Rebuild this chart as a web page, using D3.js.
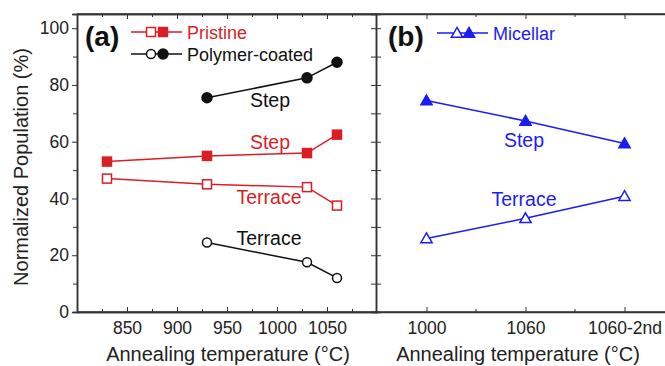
<!DOCTYPE html>
<html>
<head>
<meta charset="utf-8">
<script src="https://cdn.jsdelivr.net/npm/d3@7"></script>
<style>
  body { margin: 0; background: #fff; }
  text { font-family: "Liberation Sans", Arial, sans-serif; }
</style>
</head>
<body>
<div id="chart"></div>
<script>
// panel (a) data
var tempA = [830, 930, 1030, 1060];
var pristineStep = [53, 55, 56, 62.5];
var pristineTerrace = [47, 45, 44, 37.5];
var tempPoly = [930, 1030, 1060];
var polyStep = [75.5, 82.5, 88];
var polyTerrace = [24.5, 17.5, 12];
// panel (b) data
var catsB = ["1000", "1060", "1060-2nd"];
var micStep = [74.5, 67.3, 59.4];
var micTerrace = [25.9, 33, 40.8];
var yTicks = [0, 20, 40, 60, 80, 100];
var xTicksA = [850, 900, 950, 1000, 1050];

var red = "#d91e25", blue = "#1c1cf5", black = "#111";
var width = 665, height = 366;

var svg = d3.select("#chart").append("svg")
  .attr("width", width).attr("height", height);

var y = d3.scaleLinear().domain([0, 105]).range([312, 14]);
var xa = d3.scaleLinear().domain([800, 1100]).range([77, 377]);
var xb = d3.scalePoint().domain(catsB).range([377, 674]).padding(0.5);

var tickFont = "17.5px";

// frame lines
svg.append("line").attr("x1", 77).attr("x2", 665).attr("y1", 14).attr("y2", 14)
  .attr("stroke", "#333").attr("stroke-width", 1.5);
svg.append("line").attr("x1", 77).attr("x2", 665).attr("y1", 312).attr("y2", 312)
  .attr("stroke", "#333").attr("stroke-width", 1.5);

// left y axis (ticks outward)
svg.append("g").attr("transform", "translate(77,0)")
  .call(d3.axisLeft(y).tickValues(yTicks).tickSize(5).tickPadding(3));
svg.append("g").attr("transform", "translate(77,0)")
  .call(d3.axisLeft(y).tickValues([10, 30, 50, 70, 90]).tickSize(4).tickFormat(""));

// divider with ticks on both sides
svg.append("g").attr("transform", "translate(376,0)")
  .call(d3.axisLeft(y).tickValues(d3.range(0, 101, 10)).tickSize(5).tickFormat(""));
svg.append("g").attr("transform", "translate(376,0)")
  .call(d3.axisRight(y).tickValues(d3.range(0, 101, 10)).tickSize(5).tickFormat(""));

// bottom axes (inward ticks)
svg.append("g").attr("transform", "translate(0,312)")
  .call(d3.axisBottom(xa).tickValues(xTicksA).tickFormat(d3.format("d"))
    .tickSizeInner(-5).tickSizeOuter(0).tickPadding(10));
svg.append("g").attr("transform", "translate(0,312)")
  .call(d3.axisBottom(xa).tickValues([825, 875, 925, 975, 1025, 1075]).tickSizeInner(-3).tickSizeOuter(0).tickFormat(""));
svg.append("g").attr("transform", "translate(0,312)")
  .call(d3.axisBottom(xb).tickSizeInner(-5).tickSizeOuter(0).tickPadding(10));
// top axes ticks (inward)
svg.append("g").attr("transform", "translate(0,14)")
  .call(d3.axisTop(xa).tickValues(xTicksA).tickSizeInner(-5).tickSizeOuter(0).tickFormat(""));
svg.append("g").attr("transform", "translate(0,14)")
  .call(d3.axisTop(xa).tickValues([825, 875, 925, 975, 1025, 1075]).tickSizeInner(-3).tickSizeOuter(0).tickFormat(""));
svg.append("g").attr("transform", "translate(0,14)")
  .call(d3.axisTop(xb).tickSizeInner(-5).tickSizeOuter(0).tickFormat(""));

// minor ticks between categories
var midB = [(xb(catsB[0]) + xb(catsB[1])) / 2, (xb(catsB[1]) + xb(catsB[2])) / 2];
midB.forEach(function(m) {
  svg.append("line").attr("x1", m).attr("x2", m).attr("y1", 312).attr("y2", 309).attr("stroke", "#333");
  svg.append("line").attr("x1", m).attr("x2", m).attr("y1", 14).attr("y2", 17).attr("stroke", "#333");
});

svg.selectAll(".domain").attr("stroke", "#333").attr("stroke-width", 1.5);
svg.selectAll(".tick line").attr("stroke", "#333");
svg.selectAll(".tick text").style("font-size", tickFont).attr("fill", "#222")
  .style("font-family", "'Liberation Sans', Arial, sans-serif");

// axis titles
svg.append("text").attr("x", 228).attr("y", 361).attr("text-anchor", "middle")
  .style("font-size", "20px").attr("fill", "#222").text("Annealing temperature (\u00b0C)");
svg.append("text").attr("x", 518).attr("y", 361).attr("text-anchor", "middle")
  .style("font-size", "20px").attr("fill", "#222").text("Annealing temperature (\u00b0C)");
svg.append("text").attr("transform", "translate(28,167) rotate(-90)").attr("text-anchor", "middle")
  .style("font-size", "20px").attr("fill", "#222").text("Normalized Population (%)");

// helpers
function drawLine(xs, ys, xScale, color) {
  var pts = xs.map(function(d, i) { return [xScale(d), y(ys[i])]; });
  svg.append("path").attr("d", d3.line()(pts)).attr("fill", "none")
    .attr("stroke", color).attr("stroke-width", 1.5);
  return pts;
}
function squares(pts, color, filled) {
  svg.selectAll(null).data(pts).enter().append("rect")
    .attr("x", function(d) { return d[0] - 4.5; }).attr("y", function(d) { return d[1] - 4.5; })
    .attr("width", 9).attr("height", 9)
    .attr("fill", filled ? color : "#fff").attr("stroke", color).attr("stroke-width", 1.5);
}
function circles(pts, color, filled) {
  svg.selectAll(null).data(pts).enter().append("circle")
    .attr("cx", function(d) { return d[0]; }).attr("cy", function(d) { return d[1]; })
    .attr("r", filled ? 5 : 4.5)
    .attr("fill", filled ? color : "#fff").attr("stroke", color).attr("stroke-width", 1.5);
}
var tri = d3.symbol().type(d3.symbolTriangle).size(55);
function triangles(pts, color, filled) {
  svg.selectAll(null).data(pts).enter().append("path")
    .attr("d", tri).attr("transform", function(d) { return "translate(" + d[0] + "," + (d[1] + 1) + ")"; })
    .attr("fill", filled ? color : "#fff").attr("stroke", color).attr("stroke-width", 1.5);
}

// panel (a)
squares(drawLine(tempA, pristineStep, xa, red), red, true);
squares(drawLine(tempA, pristineTerrace, xa, red), red, false);
circles(drawLine(tempPoly, polyStep, xa, black), black, true);
circles(drawLine(tempPoly, polyTerrace, xa, black), black, false);
// panel (b)
triangles(drawLine(catsB, micStep, xb, blue), blue, true);
triangles(drawLine(catsB, micTerrace, xb, blue), blue, false);

// labels on curves
function label(x, yv, txt, color) {
  svg.append("text").attr("x", x).attr("y", yv).attr("text-anchor", "middle")
    .style("font-size", "19.5px").attr("fill", color).text(txt);
}
label(270, 107, "Step", black);
label(270, 149, "Step", red);
label(269, 204, "Terrace", red);
label(269, 245, "Terrace", black);
label(524, 147, "Step", blue);
label(524, 206, "Terrace", blue);

// panel letters
svg.append("text").attr("x", 85).attr("y", 46).style("font-size", "28px").style("font-weight", "bold")
  .attr("fill", "#111").text("(a)");
svg.append("text").attr("x", 388).attr("y", 46).style("font-size", "28px").style("font-weight", "bold")
  .attr("fill", "#111").text("(b)");

// legends
function legendRow(x0, yRow, color, marker, txt) {
  svg.append("line").attr("x1", x0).attr("x2", x0 + 51).attr("y1", yRow).attr("y2", yRow)
    .attr("stroke", color).attr("stroke-width", 1.5);
  var p1 = [[x0 + 20, yRow]], p2 = [[x0 + 32, yRow]];
  marker(p1, color, false);
  marker(p2, color, true);
  svg.append("text").attr("x", x0 + 56).attr("y", yRow + 6.5).style("font-size", "18px")
    .attr("fill", color).text(txt);
}
legendRow(131, 32, red, squares, "Pristine");
legendRow(131, 54, black, circles, "Polymer-coated");
legendRow(437, 33, blue, triangles, "Micellar");
</script>
</body>
</html>
